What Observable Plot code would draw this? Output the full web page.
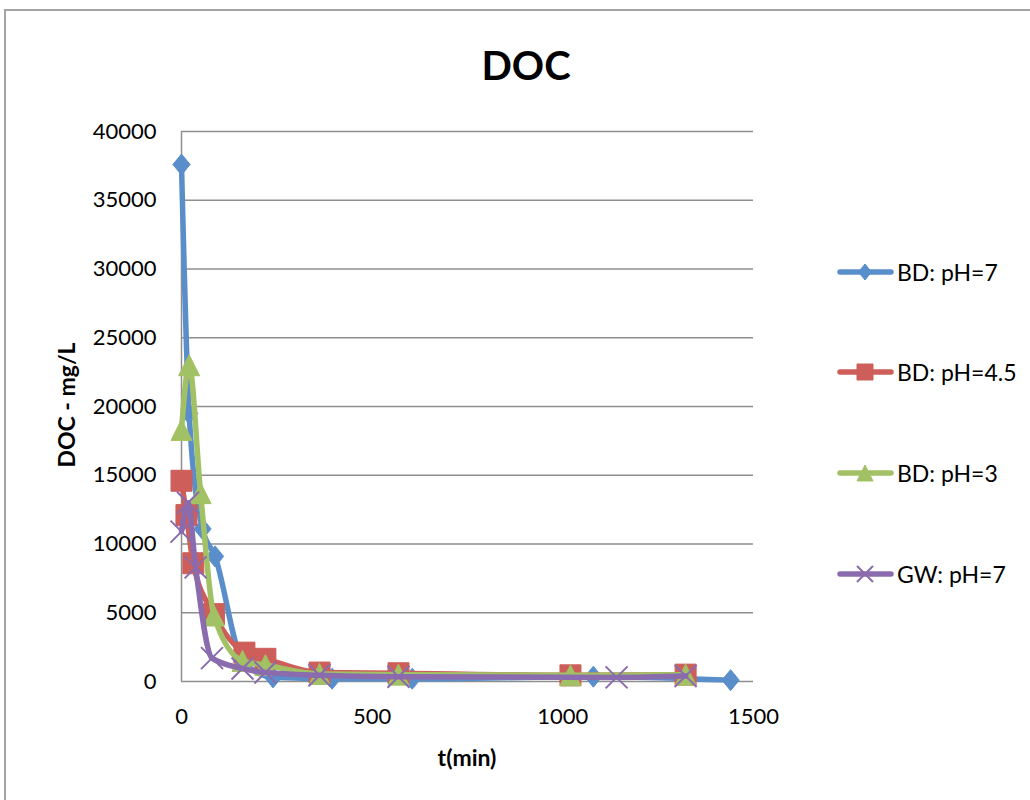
<!DOCTYPE html>
<html>
<head>
<meta charset="utf-8">
<script src="https://cdn.jsdelivr.net/npm/d3@7"></script>
<script src="https://cdn.jsdelivr.net/npm/@observablehq/plot@0.6"></script>
<style>
  html, body { margin: 0; padding: 0; background: #fff; overflow: hidden; }
  #chart { position: relative; width: 1030px; height: 800px; overflow: hidden; font-family: Lato, "Open Sans", sans-serif; color: #000; }
  #frame { position: absolute; left: 4px; top: 9px; width: 1100px; height: 900px; border: 2px solid #a3a3a3; box-sizing: border-box; }
  #plot { position: absolute; left: 0; top: 0; }
  #title { position: absolute; left: 0; width: 1052px; top: 41px; text-align: center; font-weight: 700; font-size: 40px; line-height: 48px; }
  #ylabel { position: absolute; left: 66px; top: 405px; transform: translate(-50%, -50%) rotate(-90deg); font-weight: 700; font-size: 23px; white-space: nowrap; }
  #xlabel { position: absolute; left: 467px; top: 757px; transform: translate(-50%, -50%); font-weight: 700; font-size: 23px; white-space: nowrap; }
  .item { position: absolute; left: 836px; height: 30px; display: flex; align-items: center; font-size: 23px; white-space: nowrap; }
  .item svg { margin-right: 2px; }
</style>
</head>
<body>
<div id="chart">
  <div id="frame"></div>
  <div id="plot"></div>
  <div id="title">DOC</div>
  <div id="ylabel">DOC - mg/L</div>
  <div id="xlabel">t(min)</div>
  <div id="legend"></div>
</div>
<script>
// Series names and colours
const seriesNames = ["BD: pH=7", "BD: pH=4.5", "BD: pH=3", "GW: pH=7"];
const seriesColors = ["#5a8ecb", "#cd5e59", "#a2c164", "#8a6cae"];

// Sampling times (min) and DOC (mg/L) per series
const bd7Time = [0, 20, 55, 88, 160, 240, 395, 605, 1080, 1440];
const bd7Doc  = [37600, 19500, 11100, 9100, 1500, 300, 200, 200, 350, 100];

const bd45Time = [0, 13, 31, 85, 165, 220, 362, 569, 1020, 1322];
const bd45Doc  = [14600, 12100, 8600, 4900, 2100, 1650, 650, 600, 450, 500];

const bd3Time = [0, 20, 50, 85, 160, 220, 362, 569, 1020, 1322];
const bd3Doc  = [18300, 23000, 13700, 4800, 1500, 1200, 550, 500, 450, 500];

const gw7Time = [0, 17, 37, 80, 160, 220, 362, 569, 1141, 1322];
const gw7Doc  = [10900, 13000, 8300, 1700, 950, 650, 450, 350, 300, 400];

// Axis ticks
const xTicks = [0, 500, 1000, 1500];
const yTicks = [0, 5000, 10000, 15000, 20000, 25000, 30000, 35000, 40000];

// Marker shapes, sized from the radius Plot hands over (size = r²π)
const rad = (size) => Math.sqrt(size / Math.PI);
const diamondSym = { draw(ctx, size) { const r = rad(size); ctx.moveTo(0, -r); ctx.lineTo(0.82 * r, 0); ctx.lineTo(0, r); ctx.lineTo(-0.82 * r, 0); ctx.closePath(); } };
const squareSym  = { draw(ctx, size) { const r = rad(size); ctx.rect(-r, -r, 2 * r, 2 * r); } };
const triangleSym = { draw(ctx, size) { const r = rad(size); ctx.moveTo(0, -r); ctx.lineTo(r, r); ctx.lineTo(-r, r); ctx.closePath(); } };
const crossSym = { draw(ctx, size) { const r = rad(size); ctx.moveTo(-r, -r); ctx.lineTo(r, r); ctx.moveTo(-r, r); ctx.lineTo(r, -r); } };
const symbols = [diamondSym, squareSym, triangleSym, crossSym];
const hollow = [false, false, false, true];

const times = [bd7Time, bd45Time, bd3Time, gw7Time];
const docs = [bd7Doc, bd45Doc, bd3Doc, gw7Doc];
const tables = times.map((ts, k) => ts.map((t, i) => ({ t, doc: docs[k][i] })));

const seriesMarks = tables.flatMap((rows, k) => [
  Plot.line(rows, {
    x: "t", y: "doc", stroke: seriesColors[k], strokeWidth: 5.5,
    curve: "monotone-x", strokeLinejoin: "round", strokeLinecap: "round"
  }),
  Plot.dot(rows, hollow[k]
    ? { x: "t", y: "doc", symbol: symbols[k], r: 11, fill: "none", stroke: seriesColors[k], strokeWidth: 2 }
    : { x: "t", y: "doc", symbol: symbols[k], r: 10.5, fill: seriesColors[k], stroke: seriesColors[k], strokeWidth: 1 })
]);

const chart = Plot.plot({
  width: 1030,
  height: 800,
  marginLeft: 181,
  marginRight: 277,
  marginTop: 131,
  marginBottom: 119,
  style: { fontFamily: "Lato, 'Open Sans', sans-serif", fontSize: "22px", color: "#000", background: "transparent", overflow: "visible" },
  x: { domain: [0, 1500], ticks: xTicks, tickSize: 0, tickPadding: 27, tickFormat: d3.format("d"), label: null },
  y: { domain: [0, 40000], ticks: yTicks, tickSize: 0, tickPadding: 25, tickFormat: d3.format("d"), label: null },
  marks: [
    Plot.ruleY(yTicks, { stroke: "#8e8e8e", strokeWidth: 1.5 }),
    Plot.ruleX([0], { stroke: "#8e8e8e", strokeWidth: 1.5 }),
    ...seriesMarks
  ]
});
document.getElementById("plot").appendChild(chart);

// Legend on the right, one row per series
const legend = document.getElementById("legend");
const legendTops = [257, 357, 458, 559];
seriesNames.forEach((name, k) => {
  const item = document.createElement("div");
  item.className = "item";
  item.style.top = legendTops[k] + "px";
  const svg = d3.create("svg").attr("width", 59).attr("height", 30);
  svg.append("line").attr("x1", 4).attr("x2", 55).attr("y1", 15).attr("y2", 15)
    .attr("stroke", seriesColors[k]).attr("stroke-width", 5.5).attr("stroke-linecap", "round");
  const sz = 8 * 8 * Math.PI;
  const p = d3.path();
  symbols[k].draw(p, sz);
  svg.append("path").attr("transform", "translate(29,15)").attr("d", p.toString())
    .attr("fill", hollow[k] ? "none" : seriesColors[k])
    .attr("stroke", seriesColors[k]).attr("stroke-width", hollow[k] ? 2 : 1);
  item.appendChild(svg.node());
  const label = document.createElement("span");
  label.textContent = name;
  item.appendChild(label);
  legend.appendChild(item);
});
</script>
</body>
</html>
